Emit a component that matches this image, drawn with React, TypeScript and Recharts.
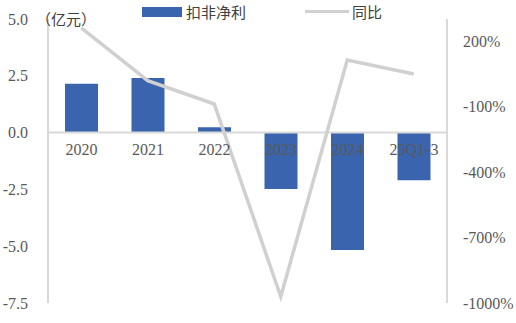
import React from 'react';
import { ComposedChart, Bar, Line, XAxis, YAxis, ReferenceLine, LabelList } from 'recharts';

const years = ['2020', '2021', '2022', '2023', '2024', '25Q1-3'];
const netProfit = [2.15, 2.4, 0.24, -2.48, -5.17, -2.1];
const yoyGrowth = [259, 18, -89, -971, 112, 48];
const leftTicks = [5, 2.5, 0, -2.5, -5, -7.5];
const rightTicks = [200, -100, -400, -700, -1000];

const data = years.map((year, i) => ({ year, profit: netProfit[i], yoy: yoyGrowth[i] }));

const BLUE = '#3a64ae';
const LINE_GRAY = '#d0d0d0';
const AXIS_GRAY = '#d9d9d9';
const TEXT = '#595959';
const SERIF = '"Liberation Serif", "DejaVu Serif", serif';
const tickFont = { fill: TEXT, fontSize: 16, fontFamily: SERIF, style: { fontFamily: SERIF } };

// category names sit just under the zero line, drawn on top of the bars
const CategoryLabel = (props: any) => {
  const { x, y, width, height, value, index } = props;
  const top = Math.min(y, y + height);
  const bottom = Math.max(y, y + height);
  const zeroY = netProfit[index] >= 0 ? bottom : top;
  return (
    <text
      x={x + width / 2}
      y={zeroY + 17}
      textAnchor="middle"
      dominantBaseline="central"
      fill={TEXT}
      fontSize={16}
      style={{ fontFamily: SERIF }}
    >
      {value}
    </text>
  );
};

const legendText = { fontSize: 15, color: '#404040', fontFamily: '"Noto Sans CJK SC", sans-serif' };

export default function App() {
  return (
    <div style={{ position: 'absolute', left: 0, top: 0, width: 516, height: 323, background: '#fff', fontFamily: SERIF }}>
      <ComposedChart width={516} height={323} data={data} margin={{ top: 19, right: 0, bottom: 20, left: 0 }}>
        <XAxis dataKey="year" hide />
        <YAxis
          yAxisId="left"
          domain={[-7.5, 5]}
          ticks={leftTicks}
          interval={0}
          width={48}
          tickFormatter={(v: number) => v.toFixed(1)}
          tick={tickFont}
          tickLine={false}
          tickSize={0}
          tickMargin={20}
          axisLine={{ stroke: AXIS_GRAY, strokeWidth: 2 }}
        />
        <YAxis
          yAxisId="right"
          orientation="right"
          domain={[-1000, 300]}
          ticks={rightTicks}
          interval={0}
          width={69}
          tickFormatter={(v: number) => `${v}%`}
          tick={{ ...tickFont, textAnchor: 'start' }}
          tickLine={false}
          tickSize={0}
          tickMargin={16}
          axisLine={{ stroke: AXIS_GRAY, strokeWidth: 2 }}
        />
        <ReferenceLine yAxisId="left" y={0} stroke={AXIS_GRAY} strokeWidth={2} />
        <Bar yAxisId="left" dataKey="profit" fill={BLUE} barSize={33} isAnimationActive={false}>
          <LabelList dataKey="year" content={CategoryLabel} />
        </Bar>
        <Line
          yAxisId="right"
          dataKey="yoy"
          type="linear"
          stroke={LINE_GRAY}
          strokeWidth={3.5}
          dot={false}
          activeDot={false}
          isAnimationActive={false}
        />
      </ComposedChart>
      <div style={{ position: 'absolute', left: 36, top: 8, ...legendText }}>（亿元）</div>
      <div style={{ position: 'absolute', left: 142, top: 1, display: 'flex', alignItems: 'center', ...legendText }}>
        <span style={{ display: 'inline-block', width: 40, height: 10, background: BLUE, marginRight: 4 }} />
        <span>扣非净利</span>
        <span style={{ display: 'inline-block', width: 44, height: 3.5, background: LINE_GRAY, marginLeft: 59, marginRight: 3 }} />
        <span>同比</span>
      </div>
    </div>
  );
}
